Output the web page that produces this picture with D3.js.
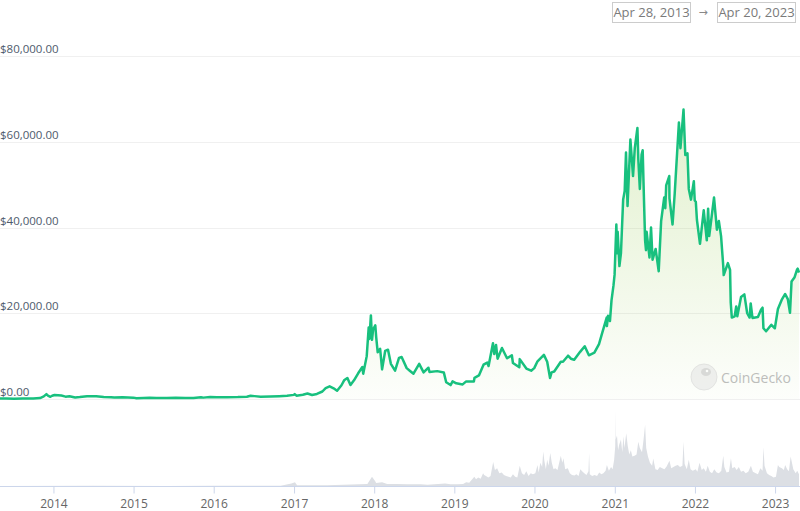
<!DOCTYPE html>
<html>
<head>
<meta charset="utf-8">
<script src="https://cdn.jsdelivr.net/npm/d3@7"></script>
<style>
  html, body { margin: 0; padding: 0; background: #fff; }
  svg { display: block; }
</style>
</head>
<body>
<svg id="chart" width="800" height="511"></svg>
<script>
// ---------- DATA ----------
const priceDates = [
"2013-04-28","2013-06-01","2013-07-05","2013-08-15","2013-10-01","2013-11-01","2013-11-18","2013-11-30","2013-12-07","2013-12-18","2013-12-26",
"2014-01-06","2014-02-06","2014-02-25","2014-03-15","2014-04-10","2014-05-01","2014-06-03","2014-07-15","2014-08-18","2014-09-20","2014-10-05","2014-11-12","2014-12-31",
"2015-01-14","2015-02-15","2015-03-15","2015-04-15","2015-06-01","2015-07-12","2015-08-25","2015-10-01","2015-11-04","2015-11-15","2015-12-16",
"2016-01-15","2016-03-01","2016-04-20","2016-05-31","2016-06-17","2016-07-05","2016-08-02","2016-09-15","2016-10-25","2016-11-30","2016-12-31",
"2017-01-04","2017-01-12","2017-02-10","2017-03-03","2017-03-24","2017-04-15","2017-05-10","2017-05-25","2017-06-12","2017-06-30","2017-07-16","2017-08-05","2017-08-17","2017-09-01","2017-09-15","2017-10-01","2017-10-20","2017-11-08","2017-11-12","2017-11-28","2017-12-07","2017-12-10","2017-12-17","2017-12-22","2017-12-27",
"2018-01-06","2018-01-10","2018-01-17","2018-01-28","2018-02-06","2018-02-20","2018-03-05","2018-03-18","2018-04-06","2018-04-24","2018-05-06","2018-05-29","2018-06-12","2018-06-29","2018-07-25","2018-08-14","2018-09-05","2018-09-10","2018-10-15","2018-11-14","2018-11-25","2018-12-15","2018-12-24",
"2019-01-10","2019-02-08","2019-02-24","2019-03-31","2019-04-03","2019-04-23","2019-05-14","2019-05-31","2019-06-06","2019-06-26","2019-07-02","2019-07-10","2019-07-17","2019-08-06","2019-08-29","2019-09-20","2019-09-25","2019-10-24","2019-10-26","2019-11-25","2019-12-17","2019-12-31",
"2020-01-15","2020-02-13","2020-02-28","2020-03-12","2020-03-19","2020-03-31","2020-04-30","2020-05-10","2020-06-02","2020-06-15","2020-06-30","2020-07-27","2020-08-17","2020-09-05","2020-09-30","2020-10-21","2020-11-05","2020-11-25","2020-11-26","2020-12-01","2020-12-10","2020-12-17","2020-12-26","2020-12-31",
"2021-01-08","2021-01-12","2021-01-14","2021-01-22","2021-01-29","2021-02-08","2021-02-15","2021-02-21","2021-02-28","2021-03-13","2021-03-18","2021-03-25","2021-04-02","2021-04-14","2021-04-18","2021-04-25","2021-05-03","2021-05-08","2021-05-12","2021-05-19","2021-05-23","2021-05-26","2021-06-08","2021-06-15","2021-06-22","2021-07-06","2021-07-20","2021-07-31","2021-08-14","2021-08-19","2021-08-23","2021-09-06","2021-09-07","2021-09-21","2021-10-01","2021-10-05","2021-10-20","2021-10-27","2021-11-10","2021-11-18","2021-11-24","2021-11-28","2021-12-04","2021-12-14","2021-12-27","2021-12-31",
"2022-01-05","2022-01-10","2022-01-24","2022-02-10","2022-02-24","2022-03-02","2022-03-07","2022-03-29","2022-04-11","2022-04-20","2022-04-30","2022-05-10","2022-05-12","2022-05-31","2022-06-10","2022-06-13","2022-06-18","2022-07-01","2022-07-08","2022-07-13","2022-07-30","2022-08-14","2022-08-27","2022-09-07","2022-09-12","2022-09-20","2022-10-15","2022-10-29","2022-11-05","2022-11-09","2022-11-21","2022-12-15","2022-12-31",
"2023-01-14","2023-01-31","2023-02-16","2023-02-28","2023-03-10","2023-03-17","2023-03-31","2023-04-11","2023-04-14","2023-04-20"
];
const priceValues = [
135,122,80,100,125,205,600,1130,800,520,750,
930,800,550,640,360,450,660,620,480,400,330,420,320,
180,250,285,220,225,310,210,238,400,320,460,
380,435,445,530,750,670,540,610,660,740,960,
1150,780,980,1280,930,1180,1750,2550,2950,2500,1920,3200,4350,4900,3250,4350,6000,7450,5900,10000,16700,14000,19500,13800,16200,
17200,14500,10900,11700,6900,11200,11500,8200,6600,9600,9800,7200,6600,5900,8200,6200,7300,6300,6500,6200,3900,3250,4100,
3650,3400,4100,4100,4950,5500,8000,8500,7700,13000,10500,12600,9400,11900,9500,10200,8400,7400,9300,7100,6600,7200,
8800,10300,8700,4900,6200,6400,8700,8700,10100,9400,9150,11000,12300,10200,10800,12800,15500,19000,17000,19400,18200,23000,26500,29000,
40700,34000,39000,31000,34000,46500,48500,57500,45000,60500,57000,52000,58500,63200,56000,49000,57000,58000,50000,37000,34700,39000,33000,40000,32500,35000,29800,41500,47000,44500,49800,52000,46800,40700,48000,51500,64500,58500,67500,56900,57000,57300,49000,46500,50800,46300,
46000,41800,36200,44000,37000,44400,38000,47000,39500,41500,38000,31000,28900,31700,30100,22500,19000,19300,21600,19300,23800,24400,20000,19000,22300,18900,19100,20800,21300,16500,15800,17300,16500,
21000,23100,24500,23300,20100,27400,28400,30200,30400,29500
];

const volumeDates = [
"2013-04-28","2014-07-01","2015-06-01","2016-01-01","2016-06-01","2016-11-01","2016-12-20","2017-01-05","2017-01-15","2017-06-01","2017-12-01","2017-12-22",
"2018-01-05","2018-01-10","2018-02-06","2018-03-01","2018-04-15","2018-06-01","2018-08-01","2018-09-01","2018-11-20","2018-12-15",
"2019-01-15","2019-02-10","2019-02-24","2019-03-10","2019-04-02","2019-04-10","2019-04-20","2019-05-01","2019-05-12","2019-05-17","2019-05-25","2019-06-05","2019-06-15","2019-06-27","2019-07-05","2019-07-15","2019-07-25","2019-08-05","2019-08-15","2019-08-25","2019-09-05","2019-09-15","2019-09-25","2019-10-05","2019-10-15","2019-10-26","2019-11-05","2019-11-15","2019-11-25","2019-12-05","2019-12-15","2019-12-25",
"2020-01-05","2020-01-15","2020-01-20","2020-01-28","2020-02-05","2020-02-10","2020-02-15","2020-02-22","2020-02-28","2020-03-05","2020-03-13","2020-03-20","2020-03-28","2020-04-05","2020-04-15","2020-04-30","2020-05-07","2020-05-12","2020-05-20","2020-06-01","2020-06-10","2020-06-20","2020-07-01","2020-07-10","2020-07-20","2020-07-28","2020-08-05","2020-08-15","2020-08-25","2020-09-03","2020-09-06","2020-09-09","2020-09-20","2020-10-01","2020-10-12","2020-10-22","2020-11-01","2020-11-10","2020-11-20","2020-11-26","2020-12-05","2020-12-15","2020-12-22","2020-12-29",
"2021-01-03","2021-01-04","2021-01-05","2021-01-11","2021-01-16","2021-01-21","2021-01-29","2021-02-04","2021-02-09","2021-02-14","2021-02-22","2021-03-01","2021-03-08","2021-03-15","2021-03-22","2021-04-01","2021-04-10","2021-04-18","2021-04-25","2021-05-05","2021-05-12","2021-05-19","2021-05-24","2021-06-01","2021-06-10","2021-06-20","2021-06-25","2021-07-05","2021-07-15","2021-07-25","2021-08-05","2021-08-15","2021-08-25","2021-09-07","2021-09-15","2021-09-25","2021-10-05","2021-10-15","2021-10-25","2021-11-05","2021-11-10","2021-11-15","2021-11-25","2021-12-04","2021-12-12","2021-12-22",
"2022-01-05","2022-01-12","2022-01-22","2022-02-01","2022-02-10","2022-02-20","2022-02-28","2022-03-10","2022-03-20","2022-03-30","2022-04-10","2022-04-20","2022-05-01","2022-05-10","2022-05-15","2022-05-25","2022-06-05","2022-06-14","2022-06-20","2022-07-01","2022-07-10","2022-07-20","2022-07-30","2022-08-10","2022-08-20","2022-09-01","2022-09-13","2022-09-22","2022-10-05","2022-10-15","2022-10-26","2022-11-05","2022-11-09","2022-11-14","2022-11-25","2022-12-05","2022-12-15","2022-12-25",
"2023-01-05","2023-01-14","2023-01-20","2023-02-01","2023-02-10","2023-02-16","2023-02-25","2023-03-05","2023-03-13","2023-03-17","2023-03-25","2023-04-05","2023-04-12","2023-04-20"
];
const volumeValues = [
0.1,0.3,0.2,0.4,0.6,0.8,6,9,2,1.5,5,22,
12,7,9,5,5,4,4,3,6,4,
4,5,9,8,22,16,20,17,30,26,24,20,24,57,38,42,30,32,26,24,22,20,28,22,20,48,30,26,35,24,30,28,
30,50,32,55,45,82,60,40,62,48,78,55,40,42,38,72,55,66,40,42,30,26,25,28,24,40,35,30,26,35,78,28,24,26,24,32,28,30,36,50,36,45,40,62,
95,180,110,120,85,98,110,80,118,90,125,95,75,85,70,72,75,105,90,80,110,145,90,70,55,48,65,40,38,45,42,40,46,60,42,45,48,50,45,48,105,52,40,62,40,36,
40,34,55,38,42,34,48,34,30,40,32,30,36,72,45,32,34,66,42,45,38,45,34,36,30,34,48,34,30,28,42,36,92,48,30,26,24,20,
22,50,45,42,38,50,40,35,70,60,40,30,36,28
];

const yTicks = [0, 20000, 40000, 60000, 80000];
const xTickYears = [2014, 2015, 2016, 2017, 2018, 2019, 2020, 2021, 2022, 2023];
const startLabel = "Apr 28, 2013";
const endLabel = "Apr 20, 2023";
const watermark = "CoinGecko";

// ---------- BUILD ----------
const parse = d3.utcParse("%Y-%m-%d");
const price = priceDates.map((d, i) => ({ date: parse(d), value: priceValues[i] }));
const volume = volumeDates.map((d, i) => ({ date: parse(d), value: volumeValues[i] }));

const svg = d3.select("#chart");
const W = 800;

const x = d3.scaleUtc()
  .domain([parse("2013-04-28"), parse("2023-04-20")])
  .range([-1, 799]);
const y = d3.scaleLinear().domain([0, 80000]).range([399, 56]);
const yv = d3.scaleLinear().domain([0, 185]).range([486, 408]);

// gradient
const defs = svg.append("defs");
const grad = defs.append("linearGradient")
  .attr("id", "pgrad").attr("gradientUnits", "userSpaceOnUse")
  .attr("x1", 0).attr("y1", y(68000)).attr("x2", 0).attr("y2", y(0));
grad.append("stop").attr("offset", 0).attr("stop-color", "#8dc63f").attr("stop-opacity", 0.26);
grad.append("stop").attr("offset", 1).attr("stop-color", "#8dc63f").attr("stop-opacity", 0.02);

// gridlines
svg.append("g").selectAll("line").data(yTicks).join("line")
  .attr("x1", 0).attr("x2", W)
  .attr("y1", d => Math.round(y(d)) + 0.5).attr("y2", d => Math.round(y(d)) + 0.5)
  .attr("stroke", "#f0f0f0").attr("stroke-width", 1);

// y labels
const fmt = d3.format("$,.2f");
svg.append("g").selectAll("text").data(yTicks).join("text")
  .attr("x", 0).attr("y", d => y(d) - 3)
  .attr("font-family", "'Open Sans', 'Noto Sans', sans-serif")
  .attr("font-size", 11.5).attr("fill", "#4e5a6b")
  .text(d => fmt(d));

// volume area
svg.append("path").datum(volume)
  .attr("fill", "#dcdfe4")
  .attr("d", d3.area().x(d => x(d.date)).y0(yv(0)).y1(d => yv(d.value)));

// price area
svg.append("path").datum(price)
  .attr("fill", "url(#pgrad)")
  .attr("d", d3.area().x(d => x(d.date)).y0(y(0)).y1(d => y(d.value)));

// price line
svg.append("path").datum(price)
  .attr("fill", "none")
  .attr("stroke", "#18c07e")
  .attr("stroke-width", 2.5)
  .attr("stroke-linejoin", "round")
  .attr("d", d3.line().x(d => x(d.date)).y(d => y(d.value)));

// watermark
const wm = svg.append("g").attr("opacity", 0.55);
wm.append("circle").attr("cx", 704).attr("cy", 377).attr("r", 13)
  .attr("fill", "#e4e4e4").attr("stroke", "#cfcfcf");
wm.append("ellipse").attr("cx", 706).attr("cy", 372).attr("rx", 5).attr("ry", 4).attr("fill", "#bdbdbd");
wm.append("circle").attr("cx", 707).attr("cy", 371).attr("r", 1.3).attr("fill", "#fff");
wm.append("text").attr("x", 721).attr("y", 383)
  .attr("font-family", "'Open Sans', 'Noto Sans', sans-serif")
  .attr("font-size", 14).attr("fill", "#8a8a8a").text(watermark);

// x axis
const xAxis = d3.axisBottom(x)
  .tickValues(xTickYears.map(yr => new Date(Date.UTC(yr, 0, 1))))
  .tickFormat(d3.utcFormat("%Y"))
  .tickSize(7).tickPadding(6);
const gx = svg.append("g").attr("transform", "translate(0,486.5)").call(xAxis);
gx.select(".domain").attr("stroke", "#ccd6eb").attr("d", "M0,0H800");
gx.selectAll(".tick line").attr("stroke", "#ccd6eb");
gx.selectAll(".tick text")
  .attr("font-family", "'Open Sans', 'Noto Sans', sans-serif")
  .attr("font-size", 12).attr("fill", "#666");

// date range boxes
function box(xl, w, label) {
  svg.append("rect").attr("x", xl + 0.5).attr("y", 2.5).attr("width", w).attr("height", 20)
    .attr("fill", "#fff").attr("stroke", "#cccccc");
  svg.append("text").attr("x", xl + w / 2 + 0.5).attr("y", 17)
    .attr("text-anchor", "middle")
    .attr("font-family", "'Open Sans', 'Noto Sans', sans-serif")
    .attr("font-size", 13).attr("fill", "#7a7a7a").text(label);
}
box(612, 78, startLabel);
svg.append("text").attr("x", 703).attr("y", 16).attr("text-anchor", "middle")
  .attr("font-family", "'DejaVu Sans', sans-serif").attr("font-size", 11)
  .attr("fill", "#888").text("→");
box(717, 78, endLabel);
</script>
</body>
</html>
